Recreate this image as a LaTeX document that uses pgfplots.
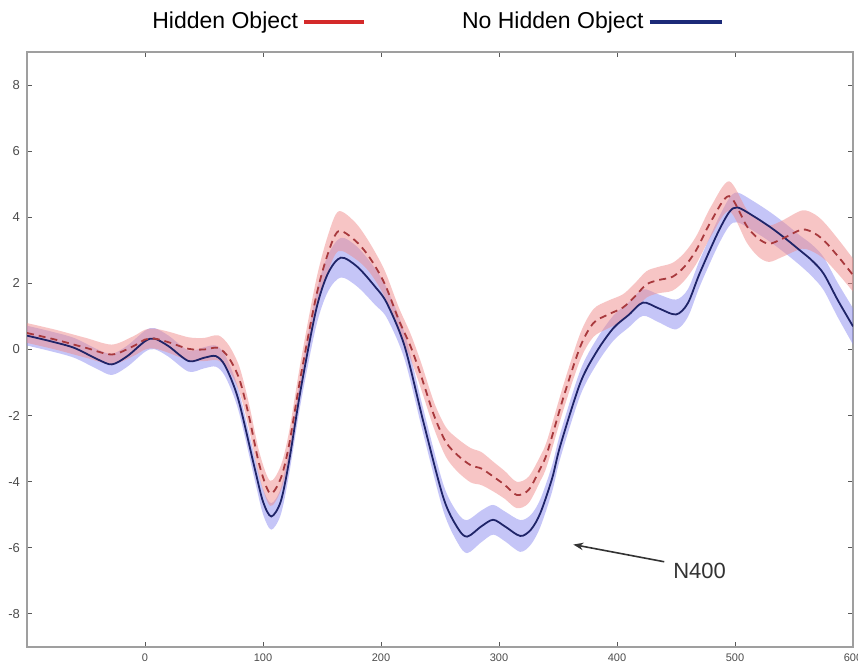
\documentclass[border=0pt]{standalone}
\usepackage{fontspec}
\setmainfont{Liberation Sans}
\usepackage{pgfplots}
\usepackage{pgfplotstable}
\pgfplotsset{compat=1.18}
\usepgfplotslibrary{fillbetween}
\usetikzlibrary{arrows.meta}
\definecolor{cRedLine}{HTML}{A8393D}
\definecolor{cBlueLine}{HTML}{1F2468}
\definecolor{cRedBand}{HTML}{F08C8C}
\definecolor{cBlueBand}{HTML}{8C8CF0}
\definecolor{cLegRed}{HTML}{D42A2A}
\definecolor{cLegBlue}{HTML}{1C2A78}

% x = time (ms), y = mean amplitude, e = half width of shaded band
\pgfplotstableread{
x y e
-100 0.50 0.30
-76 0.30 0.30
-50 0.05 0.30
-28 -0.15 0.30
-10 0.10 0.30
0 0.30 0.30
8 0.33 0.30
20 0.22 0.32
37 0.02 0.35
50 0.00 0.35
62 0.05 0.38
71 -0.25 0.38
80 -0.90 0.38
88 -2.00 0.38
97 -3.50 0.38
106 -4.35 0.38
115 -3.90 0.38
122 -2.90 0.40
132 -0.80 0.45
145 1.60 0.50
155 2.90 0.55
164 3.58 0.60
178 3.30 0.55
190 2.80 0.45
203 2.00 0.40
215 0.90 0.38
225 0.10 0.38
234 -0.80 0.40
245 -2.00 0.40
255 -2.80 0.45
265 -3.20 0.50
276 -3.50 0.52
285 -3.60 0.50
295 -3.84 0.45
305 -4.10 0.42
315 -4.40 0.40
325 -4.25 0.40
335 -3.60 0.38
341 -3.10 0.38
355 -1.40 0.38
369 0.10 0.40
380 0.80 0.42
392 1.05 0.42
405 1.27 0.40
415 1.60 0.40
425 1.97 0.40
435 2.10 0.40
447 2.20 0.42
457 2.50 0.42
467 3.00 0.42
480 3.90 0.45
495 4.64 0.45
510 3.73 0.50
520 3.35 0.55
529 3.20 0.55
540 3.35 0.55
557 3.63 0.58
568 3.50 0.58
577 3.24 0.55
590 2.70 0.52
600 2.25 0.50
}\hidden

\pgfplotstableread{
x y e
-100 0.42 0.30
-80 0.25 0.30
-60 0.05 0.30
-40 -0.30 0.30
-28 -0.45 0.32
-15 -0.20 0.32
0 0.25 0.32
8 0.33 0.32
20 0.10 0.32
37 -0.35 0.32
50 -0.25 0.32
60 -0.20 0.32
68 -0.50 0.32
79 -1.50 0.32
93 -3.60 0.35
100 -4.60 0.38
107 -5.05 0.40
115 -4.60 0.40
122 -3.40 0.40
132 -1.20 0.42
145 1.20 0.50
155 2.30 0.55
166 2.78 0.60
180 2.50 0.60
195 1.90 0.55
205 1.40 0.45
220 0.10 0.40
236 -2.20 0.38
253 -4.50 0.40
265 -5.40 0.45
273 -5.66 0.50
285 -5.35 0.48
295 -5.15 0.45
305 -5.35 0.45
318 -5.64 0.48
327 -5.45 0.45
335 -4.95 0.42
345 -3.90 0.40
352 -2.90 0.38
369 -1.00 0.38
383 -0.05 0.38
397 0.65 0.38
410 1.05 0.38
422 1.42 0.40
435 1.25 0.42
450 1.06 0.45
460 1.40 0.42
470 2.30 0.40
485 3.50 0.40
495 4.15 0.42
502 4.30 0.45
515 4.05 0.45
530 3.70 0.45
543 3.35 0.45
555 3.00 0.45
565 2.70 0.48
575 2.30 0.50
587 1.50 0.52
600 0.70 0.55
}\nohidden

\begin{document}
\begin{tikzpicture}
\begin{axis}[
  scale only axis, width=413pt, height=297.5pt,
  xmin=-100, xmax=600, ymin=-9, ymax=9,
  xtick={0,100,...,600}, ytick={-8,-6,...,8},
  tick align=inside, major tick length=2.5pt,
  axis line style={draw=gray!75, line width=0.9pt},
  tick style={gray!70!black, line width=0.5pt},
  tick label style={text=gray!60!black},
  x tick label style={font=\fontsize{5.5}{6}\selectfont},
  y tick label style={font=\fontsize{6.5}{7}\selectfont},
  /pgf/number format/assume math mode=true,
  legend columns=2, legend plot pos=right,
  legend style={at={(0.5,1)}, anchor=center, xshift=-2pt, yshift=15pt, draw=none, fill=none,
    font=\fontsize{11.5}{13}\selectfont,
    /tikz/every even column/.append style={column sep=46pt}},
]
\addlegendimage{legend image code/.code={\draw[cLegRed, line width=2pt] (0pt,0pt) -- (30pt,0pt);}}
\addlegendimage{legend image code/.code={\draw[cLegBlue, line width=2pt] (3pt,0pt) -- (39pt,0pt);}}
\legend{Hidden Object, No Hidden Object}

\addplot[name path=nhi, draw=none, smooth] table[x=x, y expr=\thisrow{y}+\thisrow{e}] {\nohidden};
\addplot[name path=nlo, draw=none, smooth] table[x=x, y expr=\thisrow{y}-\thisrow{e}] {\nohidden};
\addplot[cBlueBand, fill opacity=0.5, draw=none] fill between[of=nhi and nlo];

\addplot[name path=hhi, draw=none, smooth] table[x=x, y expr=\thisrow{y}+\thisrow{e}] {\hidden};
\addplot[name path=hlo, draw=none, smooth] table[x=x, y expr=\thisrow{y}-\thisrow{e}] {\hidden};
\addplot[cRedBand, fill opacity=0.5, draw=none] fill between[of=hhi and hlo];

\addplot[cBlueLine, line width=0.9pt, smooth] table[x=x, y=y] {\nohidden};
\addplot[cRedLine, line width=0.9pt, smooth, dash pattern=on 3.5pt off 2.5pt] table[x=x, y=y] {\hidden};

\draw[-{Stealth[length=5pt]}, line width=0.8pt, black!80] (axis cs:440,-6.42) -- (axis cs:363,-5.9);
\node[text=black!80, font=\fontsize{11}{13}\selectfont] at (axis cs:470,-6.7) {N400};

\coordinate (sw) at (rel axis cs:0,0);
\coordinate (ne) at (rel axis cs:1,1);
\end{axis}
\pgfresetboundingbox
\path[use as bounding box] ([shift={(-13.5pt,-12pt)}]sw) rectangle ([shift={(2.5pt,26pt)}]ne);
\end{tikzpicture}
\end{document}
